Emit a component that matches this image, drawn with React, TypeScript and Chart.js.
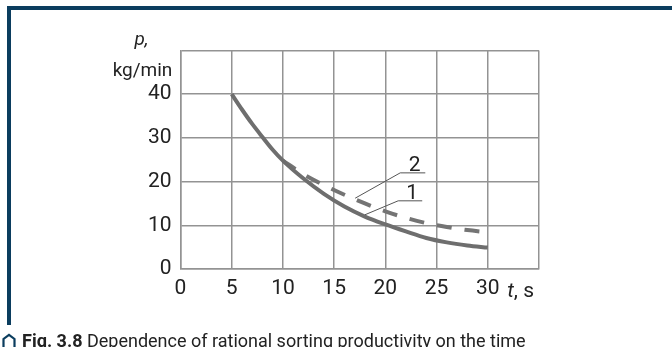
import React, { useEffect, useRef } from "react";
import { Chart, registerables } from "chart.js";

Chart.register(...registerables);

const tValues1 = [5, 6, 7, 8, 9, 10, 12, 14, 16, 18, 20, 22, 24, 26, 28, 30];
const pValues1 = [40, 36.5, 33.2, 30.2, 27.3, 24.8, 20.7, 17.2, 14.3, 12, 10.2, 8.6, 7.1, 6.1, 5.4, 4.9];
const tValues2 = [10, 12, 14, 16, 18, 20, 22, 24, 26, 28, 30];
const pValues2 = [24.8, 21.7, 19.2, 17, 15, 13.2, 11.7, 10.5, 9.6, 8.9, 8.4];
const xTicks = [0, 5, 10, 15, 20, 25, 30];
const yTicks = [0, 10, 20, 30, 40];
const curveLabels = ["1", "2"];
const xAxisTitle = "t, s";
const yAxisTitleTop = "p,";
const yAxisTitleBottom = "kg/min";
const captionBold = "Fig. 3.8";
const captionText = " Dependence of rational sorting productivity on the time";

const FONT = "Roboto, 'Liberation Sans', sans-serif";

const decorPlugin = {
  id: "decor",
  afterDatasetsDraw(chart: any) {
    const { ctx, chartArea, scales } = chart;
    const xs = scales.x;
    const ys = scales.y;
    ctx.save();
    ctx.fillStyle = "#222";
    ctx.textAlign = "center";
    ctx.textBaseline = "alphabetic";
    ctx.font = `italic 19px ${FONT}`;
    ctx.fillText(yAxisTitleTop, chartArea.left - 39, 45);
    ctx.font = `19px ${FONT}`;
    ctx.fillText(yAxisTitleBottom, chartArea.left - 38, 76);
    const xt = xs.getPixelForValue(31.5);
    ctx.textAlign = "left";
    ctx.font = `italic 21px ${FONT}`;
    ctx.fillText("t", xt + 4, 297);
    const tw = ctx.measureText("t").width;
    ctx.font = `21px ${FONT}`;
    ctx.fillText(xAxisTitle.slice(1), xt + 4 + tw, 297);

    ctx.strokeStyle = "#555";
    ctx.lineWidth = 1;
    const leaders = [
      { label: curveLabels[1], a: [17.05, 16.2], b: [21.45, 22], c: 23.9 },
      { label: curveLabels[0], a: [18.0, 12.4], b: [21.25, 15.6], c: 23.6 },
    ];
    ctx.font = `21px ${FONT}`;
    ctx.textAlign = "center";
    ctx.textBaseline = "alphabetic";
    for (const l of leaders) {
      const ax = xs.getPixelForValue(l.a[0]);
      const ay = ys.getPixelForValue(l.a[1]);
      const bx = xs.getPixelForValue(l.b[0]);
      const by = ys.getPixelForValue(l.b[1]);
      const cx = xs.getPixelForValue(l.c);
      ctx.beginPath();
      ctx.moveTo(ax, ay);
      ctx.lineTo(bx, by);
      ctx.lineTo(cx, by);
      ctx.stroke();
      ctx.fillText(l.label, (bx + cx) / 2 + 2, by - 2);
    }
    ctx.restore();
  },
};

export default function App() {
  const canvasRef = useRef<HTMLCanvasElement | null>(null);

  useEffect(() => {
    if (!canvasRef.current) return;
    const chart = new Chart(canvasRef.current, {
      type: "line",
      data: {
        datasets: [
          {
            label: curveLabels[0],
            data: tValues1.map((t, i) => ({ x: t, y: pValues1[i] })),
            borderColor: "#6e6e6e",
            borderWidth: 4,
            pointRadius: 0,
            cubicInterpolationMode: "monotone",
            borderCapStyle: "butt",
          },
          {
            label: curveLabels[1],
            data: tValues2.map((t, i) => ({ x: t, y: pValues2[i] })),
            borderColor: "#747474",
            borderWidth: 4,
            borderDash: [15, 13],
            pointRadius: 0,
            cubicInterpolationMode: "monotone",
            borderCapStyle: "butt",
          },
        ],
      },
      options: {
        animation: false,
        responsive: false,
        maintainAspectRatio: false,
        layout: { padding: { left: 0, top: 50.5, right: 133, bottom: 0 } },
        plugins: { legend: { display: false }, tooltip: { enabled: false } },
        scales: {
          x: {
            type: "linear",
            min: 0,
            max: 35,
            afterBuildTicks: (s: any) => {
              s.ticks = [...xTicks, 35].map((v) => ({ value: v }));
            },
            afterFit: (s: any) => {
              s.height = 78;
            },
            ticks: {
              callback: (v: any) => (xTicks.includes(v) ? String(v) : ""),
              font: { family: FONT, size: 21 },
              color: "#222",
              padding: 7,
              maxRotation: 0,
              autoSkip: false,
            },
            grid: { color: "#939393", lineWidth: 1.5, drawTicks: false },
            border: { color: "#939393", width: 1.5 },
          },
          y: {
            type: "linear",
            min: 0,
            max: 50,
            afterBuildTicks: (s: any) => {
              s.ticks = [...yTicks, 50].map((v) => ({ value: v }));
            },
            afterFit: (s: any) => {
              s.width = 180.5;
            },
            ticks: {
              callback: (v: any) => (yTicks.includes(v) ? String(v) : ""),
              font: { family: FONT, size: 21 },
              color: "#222",
              padding: 9,
              autoSkip: false,
            },
            grid: { color: "#939393", lineWidth: 1.5, drawTicks: false },
            border: { color: "#939393", width: 1.5 },
          },
        },
      },
      plugins: [decorPlugin],
    } as any);
    return () => chart.destroy();
  }, []);

  return (
    <div
      style={{
        position: "fixed",
        left: 0,
        top: 0,
        width: 672,
        height: 347,
        overflow: "hidden",
        background: "#fff",
      }}
    >
      <div style={{ position: "absolute", left: 7, top: 6, width: 665, height: 4, background: "#0b3d5e" }} />
      <div style={{ position: "absolute", left: 7, top: 6, width: 4, height: 319, background: "#0b3d5e" }} />
      <canvas ref={canvasRef} width={672} height={347} style={{ position: "absolute", left: 0, top: 0 }} />
      <div
        style={{
          position: "absolute",
          left: 2,
          top: 330,
          whiteSpace: "nowrap",
          fontFamily: FONT,
          fontSize: 18,
          color: "#222",
          lineHeight: "22px",
        }}
      >
        <svg width="14" height="16" viewBox="0 0 14 16" style={{ verticalAlign: "-2px", marginRight: 6 }}>
          <path d="M1.5 15 V6 L7 1.8 L12.5 6 V15" fill="none" stroke="#0b3d5e" strokeWidth="2.2" />
        </svg>
        <b>{captionBold}</b>
        {captionText}
      </div>
    </div>
  );
}
